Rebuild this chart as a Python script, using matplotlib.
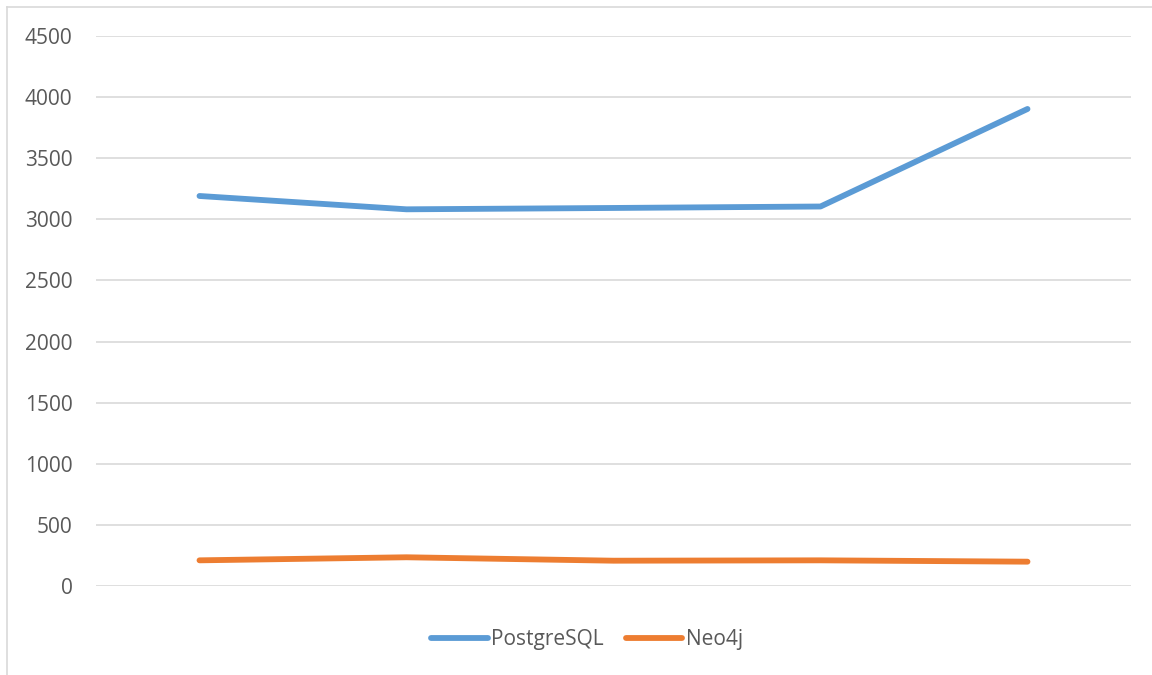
import matplotlib.pyplot as plt
from matplotlib.lines import Line2D

categories = [1, 2, 3, 4, 5]
postgres = [3191, 3082, 3093, 3105, 3903]
neo4j = [210, 235, 207, 210, 199]
yticks = [0, 500, 1000, 1500, 2000, 2500, 3000, 3500, 4000, 4500]

plt.rcParams['font.family'] = ['Open Sans', 'DejaVu Sans']

fig = plt.figure(figsize=(11.52, 6.75), dpi=100)
ax = fig.add_axes([96 / 1152, 89 / 675, 1035 / 1152, 550 / 675])

ax.plot(categories, postgres, color='#5B9BD5', lw=4.2, solid_capstyle='round',
        solid_joinstyle='round', label='PostgreSQL')
ax.plot(categories, neo4j, color='#ED7D31', lw=4.2, solid_capstyle='round',
        solid_joinstyle='round', label='Neo4j')

ax.set_xlim(0.5, 5.5)
ax.set_ylim(0, 4500)
ax.set_yticks(yticks)
ax.set_xticks([])
ax.grid(axis='y', color='#D9D9D9', lw=1.2)
ax.set_axisbelow(True)
for s in ax.spines.values():
    s.set_visible(False)
ax.tick_params(axis='y', length=0, pad=17, labelsize=15, labelcolor='#595959')

# chart area border (top and left visible)
fig.add_artist(Line2D([7 / 1152, 1.0], [1 - 7 / 675, 1 - 7 / 675], color='#D9D9D9', lw=1.2))
fig.add_artist(Line2D([7 / 1152, 7 / 1152], [0, 1 - 7 / 675], color='#D9D9D9', lw=1.2))

fig.legend(loc='center', bbox_to_anchor=(587 / 1152, 1 - 640 / 675), ncol=2,
           frameon=False, fontsize=15, handlelength=2.7, columnspacing=1.1,
           handletextpad=0.15, labelcolor='#595959')

fig.savefig('out.png', dpi=100)
